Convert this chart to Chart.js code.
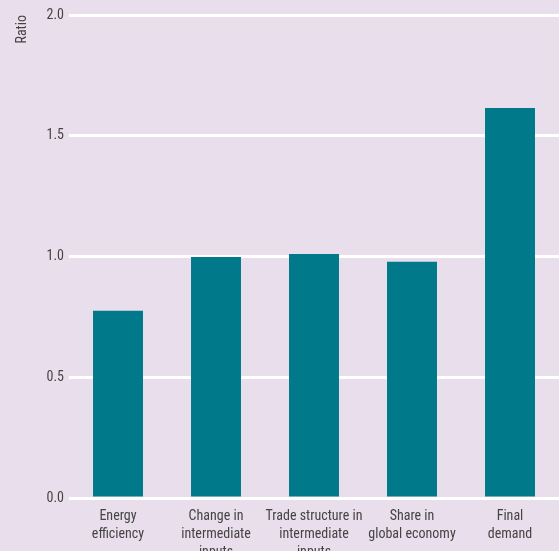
<!DOCTYPE html>
<html>
<head>
<meta charset="utf-8">
<script src="https://cdn.jsdelivr.net/npm/chart.js@4"></script>
<style>
html,body{margin:0;padding:0;overflow:hidden;background:#e9dfec;width:559px;height:551px;}
#wrap{position:absolute;left:0;top:0;width:559px;height:580px;}
</style>
</head>
<body>
<div id="wrap"><canvas id="c" width="559" height="580"></canvas></div>
<script>
const categories = [
  ["Energy", "efficiency"],
  ["Change in", "intermediate", "inputs"],
  ["Trade structure in", "intermediate", "inputs"],
  ["Share in", "global economy"],
  ["Final", "demand"]
];
const values = [0.775, 0.998, 1.01, 0.978, 1.615];
const yTicks = [0, 0.5, 1.0, 1.5, 2.0];

const fontFam = "'Liberation Sans Narrow', 'Roboto Condensed', 'Liberation Sans', Arial, sans-serif";

new Chart(document.getElementById('c'), {
  type: 'bar',
  data: {
    labels: categories,
    datasets: [{
      data: values,
      backgroundColor: '#007a8a',
      borderWidth: 0,
      barPercentage: 0.51,
      categoryPercentage: 1.0
    }]
  },
  options: {
    responsive: false,
    animation: false,
    layout: { padding: { top: 15, right: 0, left: 0, bottom: 0 } },
    plugins: { legend: { display: false }, tooltip: { enabled: false } },
    scales: {
      x: {
        grid: { display: false, drawTicks: false },
        border: { display: false },
        ticks: {
          color: '#444',
          font: { family: fontFam, size: 14, lineHeight: 1.3 },
          padding: 9,
          maxRotation: 0,
          autoSkip: false
        },
        afterFit: (s) => { s.height = 82; }
      },
      y: {
        min: 0, max: 2,
        afterBuildTicks: (s) => { s.ticks = yTicks.map(v => ({ value: v })); },
        grid: { color: '#ffffff', lineWidth: 3, drawTicks: false },
        border: { display: false },
        ticks: {
          color: '#444',
          font: { family: fontFam, size: 14 },
          padding: 5,
          callback: (v) => Number(v).toFixed(1)
        },
        title: {
          display: true,
          text: 'Ratio',
          align: 'end',
          color: '#444',
          font: { family: fontFam, size: 14 },
          padding: { top: 14, bottom: 0 }
        },
        afterFit: (s) => { s.width = 69; }
      }
    }
  }
});
</script>
</body>
</html>
